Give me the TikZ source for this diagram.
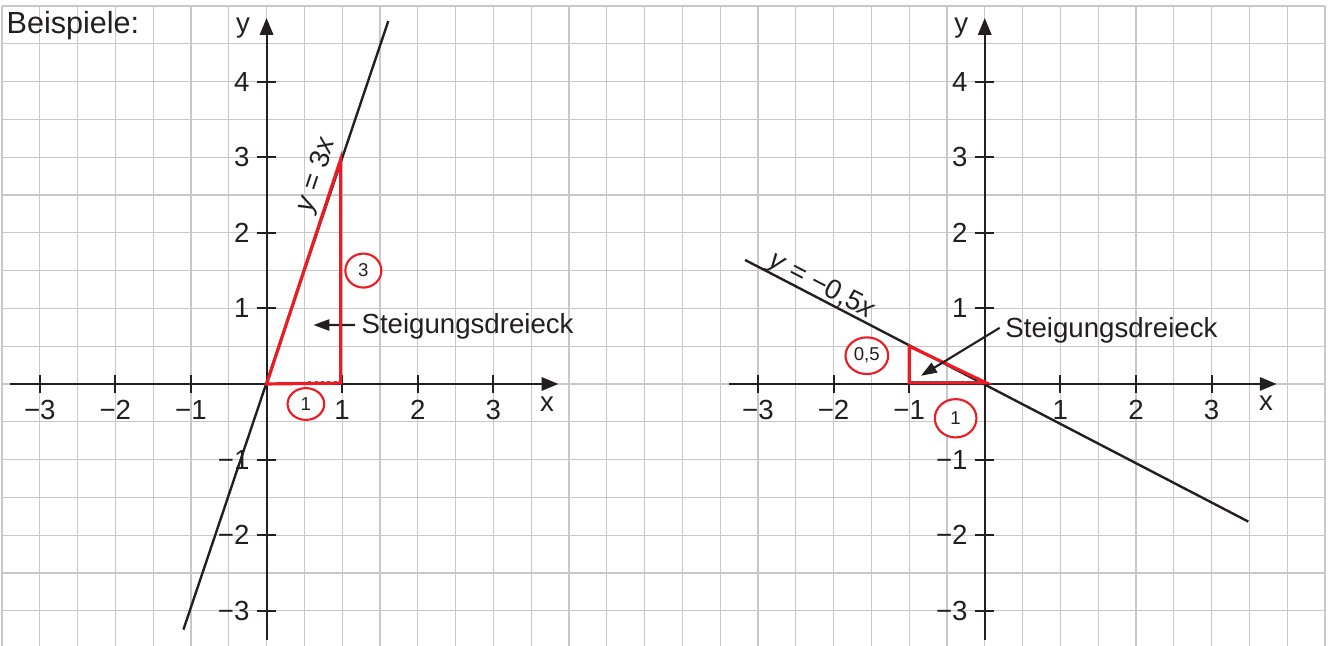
\documentclass[tikz,border=0pt]{standalone}
\usepackage{fontspec}
\setmainfont{Liberation Sans}
\usetikzlibrary{arrows.meta,shapes.geometric}
\definecolor{gridc}{RGB}{200,200,200}
\definecolor{ink}{RGB}{35,31,32}
\definecolor{mred}{RGB}{237,28,36}
\tikzset{
  axisline/.style={ink, line width=0.8pt, -{Triangle[length=6.3pt,width=5pt]}},
  tickline/.style={ink, line width=0.8pt},
  graphline/.style={ink, line width=0.9pt},
  tri/.style={mred, line width=1.2pt, line join=miter},
  helper/.style={ink!70, line width=0.4pt, dash pattern=on 1.2pt off 1.2pt},
  lbl/.style={font=\fontsize{10.4}{12}\selectfont, text=ink, inner sep=0pt},
  ring/.style={draw=mred, fill=white, line width=0.8pt, ellipse, inner sep=0pt,
    font=\fontsize{7}{8}\selectfont, text=ink},
  pointer/.style={ink, line width=0.8pt, -{Triangle[length=6pt,width=4.2pt]}},
}
\begin{document}
\begin{tikzpicture}
\useasboundingbox (-3.526,-3.466) rectangle (14.093,5.079);
\begin{scope}
  \clip (-3.526,-3.466) rectangle (14.093,5.079);
  \draw[gridc, line width=0.5pt, step=0.5] (-3.5,-3.5) grid (14,5);
\end{scope}

\node[lbl, font=\fontsize{11.5}{13}\selectfont, anchor=base west] (title) at (-3.445,4.639) {Beispiele:};

% ---------- left plot ----------
\begin{scope}
  \draw[axisline] (-3.39,0) -- (3.86,0);
  \draw[axisline] (0,-3.39) -- (0,4.84);
  \foreach \x in {-3,-2,-1,1,2,3} \draw[tickline] (\x,-0.12) -- (\x,0.12);
  \foreach \y in {-3,-2,-1,1,2,3,4} \draw[tickline] (-0.13,\y) -- (0.12,\y);
  \foreach \x/\t in {-3/−3,-2/−2,-1/−1,1/1,2/2,3/3}
    \node[lbl, anchor=north] (lx\x) at (\x,-0.21) {\t};
  \foreach \y/\t in {-3/−3,-2/−2,-1/−1,1/1,2/2,3/3,4/4}
    \node[lbl, anchor=east] (ly\y) at (-0.22,\y) {\t};
  \node[lbl] (xlab) at (3.71,-0.265) {x};
  \node[lbl] (ylab) at (-0.31,4.71) {y};
  \node[lbl, anchor=base west] (st1) at (1.25,0.67) {Steigungsdreieck};
  \coordinate (tip1) at (0.62,0.78);
  \draw[pointer] ([shift={(-0.08,0.015)}]st1.west) -- (tip1);
  \draw[graphline] (-1.1,-3.25) -- (1.61,4.8);
  \draw[tri] (0,0) -- (0.98,0.012) -- (0.98,2.97) -- cycle;
  \draw[helper] (0.55,0.03) -- (0.96,0.03);
  \node[ring, minimum width=0.485cm, minimum height=0.42cm] (cone) at (0.52,-0.265) {1};
  \node[ring, minimum width=0.476cm, minimum height=0.45cm] (cthree) at (1.28,1.50) {3};
  \node[lbl, rotate=71.57] (f1) at (0.667,2.76) {\textit{y} = 3\textit{x}};
\end{scope}

% ---------- right plot ----------
\begin{scope}[xshift=9.5cm]
  \draw[axisline] (-3.38,0) -- (3.86,0);
  \draw[axisline] (0,-3.39) -- (0,4.84);
  \foreach \x in {-3,-2,-1,1,2,3} \draw[tickline] (\x,-0.12) -- (\x,0.12);
  \foreach \y in {-3,-2,-1,1,2,3,4} \draw[tickline] (-0.13,\y) -- (0.12,\y);
  \foreach \x/\t in {-3/−3,-2/−2,-1/−1,1/1,2/2,3/3}
    \node[lbl, anchor=north] (rx\x) at (\x,-0.21) {\t};
  \foreach \y/\t in {-3/−3,-2/−2,-1/−1,1/1,2/2,3/3,4/4}
    \node[lbl, anchor=east] (ry\y) at (-0.22,\y) {\t};
  \node[lbl] (xlabr) at (3.72,-0.25) {x};
  \node[lbl] (ylabr) at (-0.31,4.71) {y};
  \draw[graphline] (-3.17,1.64) -- (3.485,-1.82);
  \draw[tri] (-1,0.5) -- (-1,0.015) -- (0.02,0.015) -- cycle;
  \draw[helper] (-0.95,0.035) -- (-0.03,0.035);
  \node[lbl, anchor=base west] (st2) at (0.267,0.618) {Steigungsdreieck};
  \coordinate (tip2) at (-0.844,0.108);
  \draw[pointer] ([shift={(-0.07,0.03)}]st2.west) -- (tip2);
  \node[ring, minimum width=0.565cm, minimum height=0.485cm] (chalf) at (-1.56,0.374) {0,5};
  \node[ring, minimum width=0.55cm, minimum height=0.507cm] (coner) at (-0.385,-0.454) {1};
  \node[lbl, rotate=-27.5] (f2) at (-2.157,1.287) {\textit{y} = −0,5\textit{x}};
\end{scope}
\end{tikzpicture}
\end{document}
